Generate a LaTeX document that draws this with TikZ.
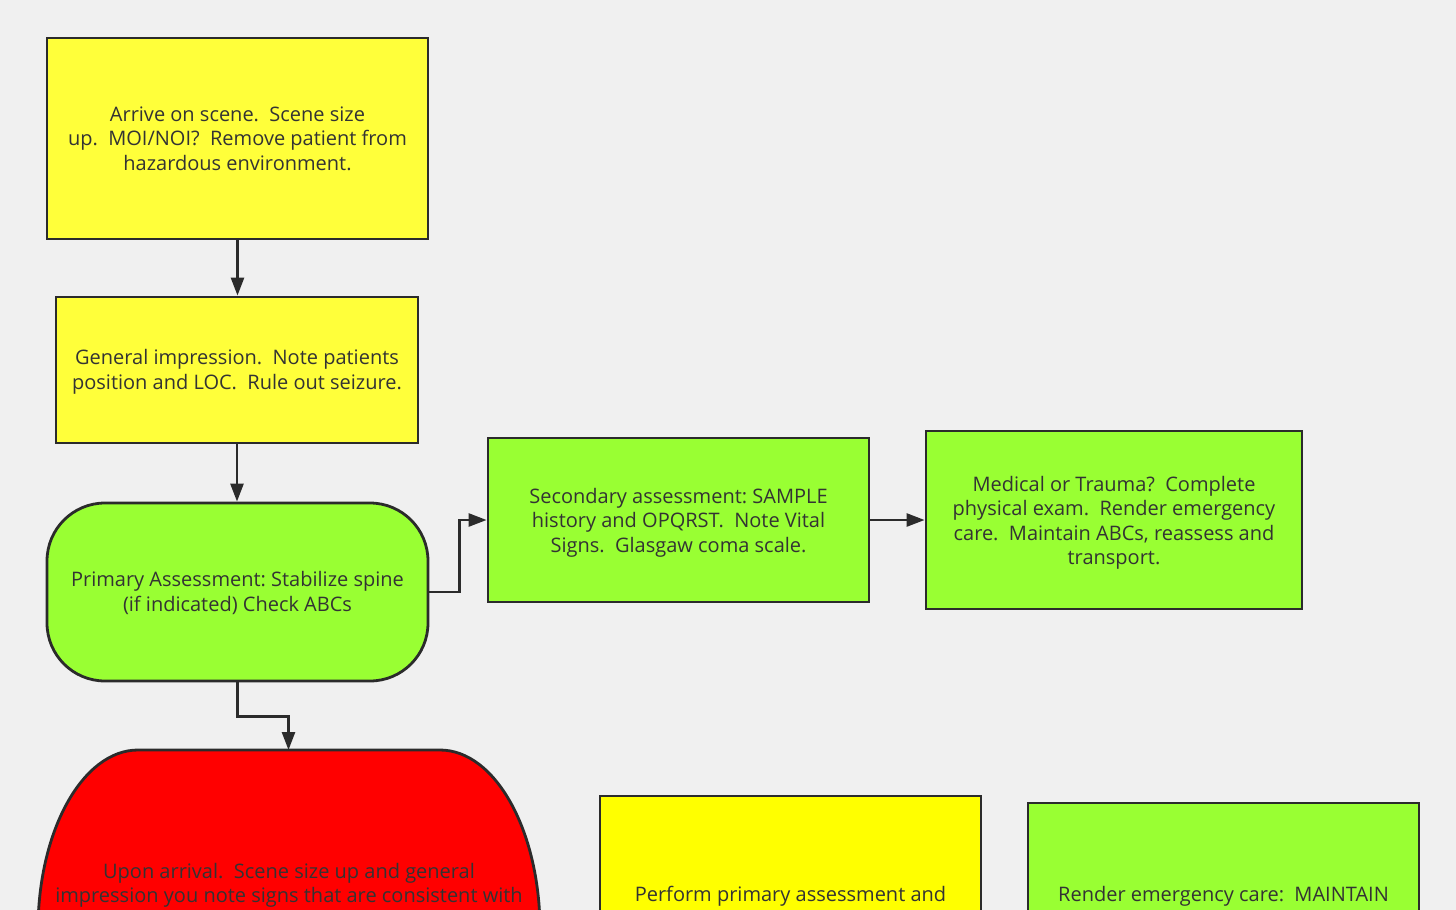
\documentclass[tikz,border=0pt]{standalone}
\usepackage{fontspec}
\setmainfont{Open Sans}
\usetikzlibrary{arrows.meta}
\definecolor{bg}{HTML}{F0F0F0}
\definecolor{ylw}{HTML}{FFFF3A}
\definecolor{ylwb}{HTML}{FFFF00}
\definecolor{grn}{HTML}{99FF33}
\definecolor{edge}{HTML}{2B2B2B}
\definecolor{txt}{HTML}{333333}
\newcommand\lwrtext[2]{\raisebox{#1}[\height][\depth]{\begin{tabular}{@{}c@{}}#2\end{tabular}}}
\tikzset{
  box/.style={draw=edge, line width=2.8pt, text=txt, align=center, inner sep=0pt,
    font=\fontsize{20}{24.4}\selectfont},
  arr/.style={draw=edge, line width=2.6pt, -{Triangle[length=18pt,width=13pt]}},
}
\frenchspacing
\begin{document}
\begin{tikzpicture}[x=1pt,y=-1pt]
\useasboundingbox (0,0) rectangle (1456,910);
\fill[bg] (0,0) rectangle (1456,910);
\clip (0,0) rectangle (1456,910);

\node[box, fill=ylw, minimum width=381pt, minimum height=201pt] (b1) at (237.5,138.5)
  {Arrive on scene.\ \ Scene size\\up.\ \ MOI/NOI?\ \ Remove patient from\\hazardous environment.};
\node[box, fill=ylw, minimum width=362pt, minimum height=146pt] (b2) at (237,370)
  {\lwrtext{-2pt}{General impression.\ \ Note patients\\position and LOC.\ \ Rule out seizure.}};
\node[box, fill=grn, minimum width=381pt, minimum height=178pt, rounded corners=58pt] (prim) at (237.5,592)
  {\lwrtext{-2pt}{Primary Assessment: Stabilize spine\\(if indicated) Check ABCs}};
\node[box, fill=grn, minimum width=381pt, minimum height=164pt] (sec) at (678.5,520)
  {\lwrtext{-3pt}{Secondary assessment: SAMPLE\\history and OPQRST.\ \ Note Vital\\Signs.\ \ Glasgaw coma scale.}};
\node[box, fill=grn, minimum width=376pt, minimum height=178pt] (med) at (1114,520)
  {\lwrtext{-3pt}{Medical or Trauma?\ \ Complete\\physical exam.\ \ Render emergency\\care.\ \ Maintain ABCs, reassess and\\transport.}};

% red terminal shape
\draw[draw=edge, line width=2.8pt, fill=red]
  (38,1100) -- (38,930) .. controls (38,830.6) and (82.8,750) .. (138,750)
  -- (440,750) .. controls (495.2,750) and (540,830.6) .. (540,930) -- (540,1100);
\coordinate (redtop) at (288.5,750);
\node[text=txt, align=center, font=\fontsize{20}{24.4}\selectfont] (red) at (289,885)
  {Upon arrival.\ \ Scene size up and general\\impression you note signs that are consistent with};

\node[box, fill=ylwb, minimum width=381pt, minimum height=200pt] (perf) at (790.5,896)
  {Perform primary assessment and};
\node[box, fill=grn, minimum width=391pt, minimum height=186pt] (rend) at (1223.5,896)
  {Render emergency care:\ \ MAINTAIN};

\draw[arr] (b1.south) -- (b1.south |- b2.north);
\draw[arr] (b2.south) -- (b2.south |- prim.north);
\draw[arr] (prim.east) -- ++(30,0) |- (sec.west);
\draw[arr] (sec.east) -- (med.west);
\draw[arr] (prim.south) -- ++(0,34) -| (redtop);
\end{tikzpicture}
\end{document}
